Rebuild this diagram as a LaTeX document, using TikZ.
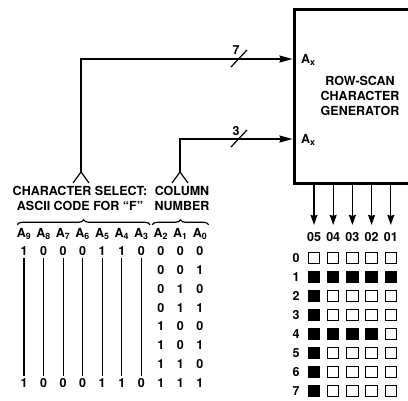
\documentclass[tikz,border=0pt]{standalone}
\usepackage{fontspec}
\setmainfont{TeX Gyre Heros}
\usetikzlibrary{positioning,arrows.meta,decorations.pathreplacing}

\tikzset{
  lbl/.style={font=\fontsize{12.5}{15}\selectfont\bfseries},
  sig/.style={line width=1.2pt},
  inarr/.style={sig,-{Stealth[length=13pt,width=7pt,inset=1pt]}},
  outarr/.style={sig,-{Stealth[length=10pt,width=7pt,inset=1pt]}},
  genbox/.style={draw,line width=3pt,minimum width=132pt,minimum height=174pt,align=center,lbl},
  brc/.style={decorate,decoration={brace,amplitude=5pt},line width=1.2pt},
  pix0/.style={draw,line width=1pt,minimum size=11.5pt,inner sep=0pt,fill=white},
  pix1/.style={pix0,fill=black},
}

\begin{document}
\begin{tikzpicture}[x=1pt,y=-1pt]
\useasboundingbox (0,0) rectangle (408,401);

% generator block
\node[genbox] (gen) at (360,96.3) {ROW-SCAN\\CHARACTER\\GENERATOR};
\coordinate (in7) at (gen.west |- 0,59);
\coordinate (in3) at (gen.west |- 0,139);
\node[lbl,anchor=base west] (ax7) at ([xshift=5pt,yshift=-5pt]in7) {A\textsubscript{x}};
\node[lbl,anchor=base west] (ax3) at ([xshift=5pt,yshift=-5pt]in3) {A\textsubscript{x}};

% input forks and buses
\coordinate (selfork) at (81,172);
\coordinate (colfork) at (180,172);
\draw[sig] (selfork) ++(-8,11) -- (selfork) -- ++(8,11);
\draw[sig] (colfork) ++(-8,11) -- (colfork) -- ++(8,11);
\draw[inarr] (selfork) |- (in7);
\draw[inarr] (colfork) |- (in3);
\draw[sig] (231,67) -- (247,50);
\node[lbl] (n7) at (236,50) {7};
\draw[sig] (231,147) -- (247,130);
\node[lbl] (n3) at (236,131) {3};

\node[lbl,align=center] (seltxt) at (80,198) {CHARACTER SELECT:\\ASCII CODE FOR “F”};
\node[lbl,align=center] (coltxt) at (182,198) {COLUMN\\NUMBER};

% address bits
\foreach \i [evaluate=\i as \x using {24+19.55*(9-\i)}] in {9,...,0}
  \node[lbl] (a\i) at (\x,234) {A\textsubscript{\i}};
\draw[brc] ([xshift=4pt]a9.north west) -- ([xshift=-2pt]a3.north east);
\draw[brc] ([xshift=2pt]a2.north west) -- ([xshift=-2pt]a0.north east);

\foreach \i/\b in {9/1,8/0,7/0,6/0,5/1,4/1,3/0} {
  \node[lbl,inner sep=2pt] (t\i) at (a\i |- 0,251) {\b};
  \node[lbl,inner sep=2pt] (u\i) at (a\i |- 0,383) {\b};
  \draw[sig] (t\i) -- (u\i);
}
\foreach \r/\p/\q/\s in {0/0/0/0,1/0/0/1,2/0/1/0,3/0/1/1,4/1/0/0,5/1/0/1,6/1/1/0,7/1/1/1} {
  \pgfmathsetmacro{\y}{251+18.86*\r}
  \node[lbl] (c2r\r) at (a2 |- 0,\y) {\p};
  \node[lbl] (c1r\r) at (a1 |- 0,\y) {\q};
  \node[lbl] (c0r\r) at (a0 |- 0,\y) {\s};
}

% output columns and dot matrix
\foreach \c/\x in {5/314,4/333.2,3/352.4,2/371.6,1/390.8} {
  \node[lbl] (h\c) at (\x,237) {0\c};
  \draw[outarr] (gen.south -| h\c) -- ([yshift=4pt]h\c.north);
}
\foreach \r/\bits in {0/{0,0,0,0,0},1/{1,1,1,1,1},2/{1,0,0,0,0},3/{1,0,0,0,0},
                      4/{1,1,1,1,0},5/{1,0,0,0,0},6/{1,0,0,0,0},7/{1,0,0,0,0}} {
  \node[lbl] (r\r) at (296,258+19*\r) {\r};
  \foreach \b [count=\k] in \bits {
    \pgfmathtruncatemacro{\c}{6-\k}
    \node[pix\b] (p\r\c) at (h\c |- r\r) {};
  }
}
\end{tikzpicture}
\end{document}
